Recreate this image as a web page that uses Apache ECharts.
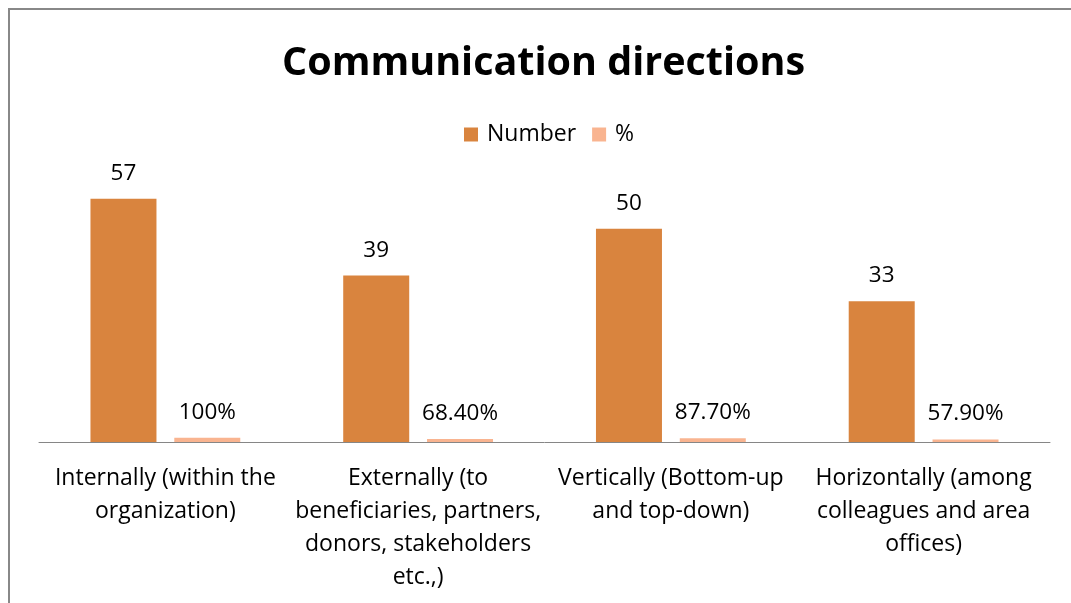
<!DOCTYPE html>
<html><head><meta charset="utf-8">
<script src="https://cdn.jsdelivr.net/npm/echarts@6/dist/echarts.min.js"></script>
<style>html,body{margin:0;padding:0;background:#fff}#c{width:1071px;height:603px}</style>
</head><body><div id="c"></div>
<script>
const categories = [
  "Internally (within the\norganization)",
  "Externally (to\nbeneficiaries, partners,\ndonors, stakeholders\netc.,)",
  "Vertically (Bottom-up\nand top-down)",
  "Horizontally (among\ncolleagues and area\noffices)"
];
const numberValues = [57, 39, 50, 33];
const percentValues = [1, 0.684, 0.877, 0.579];
const percentLabels = ["100%", "68.40%", "87.70%", "57.90%"];

const FONT = "Open Sans";
const chart = echarts.init(document.getElementById('c'));
chart.setOption({
  animation: false,
  backgroundColor: '#fff',
  title: {
    text: 'Communication directions',
    left: 277, top: 39,
    textStyle: { fontFamily: FONT, fontWeight: 'bold', fontSize: 39.5, color: '#000' }
  },
  legend: {
    top: 118, left: 459,
    itemWidth: 14, itemHeight: 14, itemGap: 16,
    icon: 'rect',
    textStyle: { fontFamily: FONT, fontSize: 23, color: '#000', padding: [0, 0, 0, 4] },
    data: ['Number', '%']
  },
  graphic: [{
    type: 'rect', shape: { x: 9, y: 9, width: 1200, height: 800 },
    style: { fill: 'none', stroke: '#888', lineWidth: 2 }, silent: true
  }],
  grid: { left: 39, right: 21, top: 186, bottom: 161 },
  xAxis: {
    type: 'category', data: categories,
    axisLine: { lineStyle: { color: '#868686', width: 1 } },
    axisTick: { show: false },
    axisLabel: { fontFamily: FONT, fontSize: 23, color: '#000', lineHeight: 33, margin: 20, interval: 0 }
  },
  yAxis: { type: 'value', min: 0, max: 60, show: false, splitLine: { show: false } },
  series: [
    {
      name: 'Number', type: 'bar', data: numberValues, barWidth: 66, barGap: '27%',
      itemStyle: { color: '#D9843E' },
      label: { show: true, position: 'top', distance: 14, fontFamily: FONT, fontSize: 22.5, color: '#000' }
    },
    {
      name: '%', type: 'bar', data: percentValues, barWidth: 66,
      itemStyle: { color: '#F9B490' },
      label: { show: true, position: 'top', distance: 14, fontFamily: FONT, fontSize: 22.5, color: '#000',
        formatter: p => percentLabels[p.dataIndex] }
    }
  ]
});
</script></body></html>
